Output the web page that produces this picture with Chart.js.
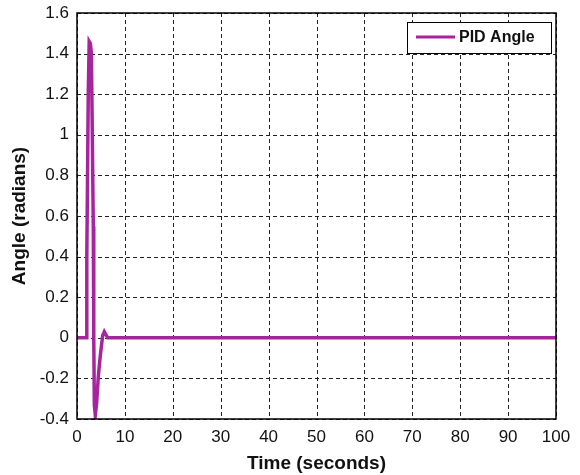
<!DOCTYPE html>
<html>
<head>
<meta charset="utf-8">
<script src="https://cdn.jsdelivr.net/npm/chart.js@4/dist/chart.umd.min.js"></script>
<style>
  html, body { margin: 0; padding: 0; background: #fff; }
  #wrap { width: 580px; height: 475px; }
</style>
</head>
<body>
<div id="wrap"><canvas id="angle-chart" width="580" height="475"></canvas></div>
<script>
// PID angle response
const timeValues  = [0, 1.9, 2.05, 2.35, 2.55, 2.8, 3.0, 3.15, 3.4, 3.5, 3.62, 3.82, 4.1, 4.45, 4.85, 5.35, 5.7, 6.4, 7.4, 100];
const angleValues = [0, 0, 0.40, 1.20, 1.46, 1.45, 1.40, 1.10, 0.55, 0.0, -0.33, -0.38, -0.32, -0.19, -0.09, 0.01, 0.03, 0.0, 0.0, 0.0];
const xTicks = [0, 10, 20, 30, 40, 50, 60, 70, 80, 90, 100];
const yTicks = [-0.4, -0.2, 0, 0.2, 0.4, 0.6, 0.8, 1, 1.2, 1.4, 1.6];
const seriesName = "PID Angle";
const lineColor = "#a6259d";

Chart.defaults.font.family = "'Liberation Sans', Arial, sans-serif";
Chart.defaults.color = "#111";

// dashed grid at the tick positions of both scales
const dashGrid = {
  id: "dashGrid",
  beforeDatasetsDraw(chart) {
    const { ctx, chartArea: a, scales } = chart;
    ctx.save();
    ctx.strokeStyle = "#222";
    ctx.lineWidth = 1;
    ctx.setLineDash([4, 3]);
    ctx.beginPath();
    scales.x.ticks.forEach(t => {
      const px = Math.round(scales.x.getPixelForValue(t.value)) + 0.5;
      ctx.moveTo(px, a.top);
      ctx.lineTo(px, a.bottom);
    });
    scales.y.ticks.forEach(t => {
      const py = Math.round(scales.y.getPixelForValue(t.value)) + 0.5;
      ctx.moveTo(a.left, py);
      ctx.lineTo(a.right, py);
    });
    ctx.stroke();
    ctx.restore();
  }
};

// legend box drawn inside the top-right of the plot, like the original
const boxLegend = {
  id: "boxLegend",
  afterDraw(chart) {
    const ctx = chart.ctx;
    const area = chart.chartArea;
    const w = 144, h = 31;
    const x = area.right - 5 - w, y = area.top + 9;
    ctx.save();
    ctx.fillStyle = "#fff";
    ctx.fillRect(x, y, w, h);
    ctx.strokeStyle = "#000";
    ctx.lineWidth = 1;
    ctx.strokeRect(x + 0.5, y + 0.5, w, h);
    ctx.strokeStyle = lineColor;
    ctx.lineWidth = 3;
    ctx.beginPath();
    ctx.moveTo(x + 9, y + 15);
    ctx.lineTo(x + 48, y + 15);
    ctx.stroke();
    ctx.fillStyle = "#111";
    ctx.font = "bold 16px 'Liberation Sans', Arial, sans-serif";
    ctx.textBaseline = "middle";
    ctx.fillText(seriesName, x + 52, y + 16);
    ctx.restore();
  }
};

// solid black frame around the plot
const frame = {
  id: "frame",
  afterDatasetsDraw(chart) {
    const { ctx, chartArea: a } = chart;
    ctx.save();
    ctx.strokeStyle = "#000";
    ctx.lineWidth = 1.5;
    ctx.strokeRect(a.left, a.top, a.right - a.left, a.bottom - a.top);
    ctx.restore();
  }
};

new Chart("angle-chart", {
  type: "line",
  data: {
    datasets: [{
      label: seriesName,
      data: timeValues.map((t, i) => ({ x: t, y: angleValues[i] })),
      borderColor: lineColor,
      backgroundColor: lineColor,
      borderWidth: 3.5,
      pointRadius: 0,
      tension: 0
    }]
  },
  options: {
    responsive: false,
    animation: false,
    layout: { padding: { top: 13, right: 24, left: 8, bottom: 0 } },
    plugins: {
      legend: { display: false },
      tooltip: { enabled: false }
    },
    scales: {
      x: {
        type: "linear",
        min: 0,
        max: 100,
        afterBuildTicks: s => { s.ticks = xTicks.map(v => ({ value: v })); },
        afterFit: s => { s.height = 56; s.paddingLeft = 0; s.paddingRight = 0; },
        ticks: { font: { size: 17 }, color: "#111", padding: 8, maxRotation: 0 },
        grid: { display: false, drawTicks: false },
        border: { display: false },
        title: {
          display: true,
          text: "Time (seconds)",
          font: { size: 19, weight: "bold" },
          color: "#111",
          padding: { top: 0, bottom: 0 }
        }
      },
      y: {
        min: -0.4,
        max: 1.6,
        afterBuildTicks: s => { s.ticks = yTicks.map(v => ({ value: v })); },
        afterFit: s => { s.width = 69; s.paddingTop = 0; s.paddingBottom = 0; },
        ticks: {
          font: { size: 17 },
          color: "#111",
          padding: 8,
          callback: v => String(Number(v.toFixed(1)))
        },
        grid: { display: false, drawTicks: false },
        border: { display: false },
        title: {
          display: true,
          text: "Angle (radians)",
          font: { size: 19, weight: "bold" },
          color: "#111",
          padding: { top: 0, bottom: 0 }
        }
      }
    }
  },
  plugins: [dashGrid, boxLegend, frame]
});
</script>
</body>
</html>
